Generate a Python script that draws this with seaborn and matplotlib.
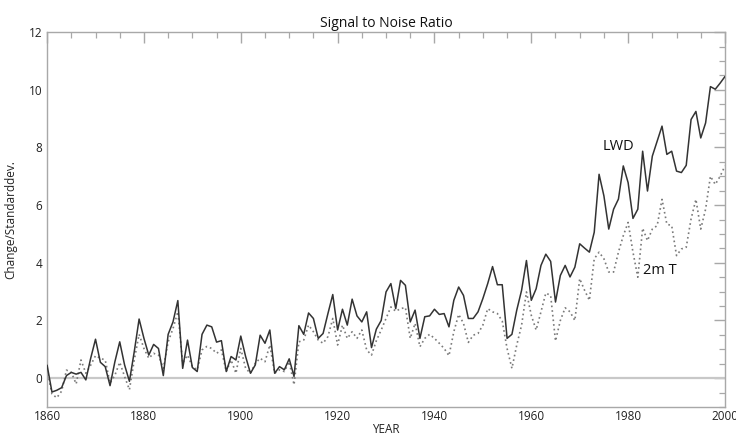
import numpy as np
import pandas as pd
import matplotlib
matplotlib.use('Agg')
import matplotlib.pyplot as plt
import seaborn as sns
from matplotlib.ticker import MultipleLocator

# years 1860..2000, one value per year
years = list(range(1860, 2001))

# signal to noise ratio, longwave downward radiation
lwd = [
    0.45, -0.48, -0.42, -0.33, 0.09, 0.20, 0.14, 0.20, -0.06, 0.69,
    1.35, 0.55, 0.40, -0.26, 0.57, 1.26, 0.46, -0.11, 0.92, 2.05,
    1.38, 0.80, 1.17, 1.03, 0.09, 1.52, 1.95, 2.69, 0.34, 1.32,
    0.37, 0.23, 1.52, 1.84, 1.78, 1.25, 1.30, 0.23, 0.75, 0.63,
    1.46, 0.75, 0.17, 0.46, 1.49, 1.21, 1.67, 0.17, 0.40, 0.29,
    0.67, 0.06, 1.82, 1.52, 2.26, 2.07, 1.38, 1.55, 2.24, 2.90,
    1.67, 2.39, 1.84, 2.74, 2.16, 1.95, 2.30, 1.06, 1.70, 2.00,
    2.99, 3.28, 2.41, 3.39, 3.22, 1.95, 2.36, 1.38, 2.13, 2.16,
    2.39, 2.21, 2.24, 1.78, 2.70, 3.16, 2.87, 2.07, 2.07, 2.30,
    2.76, 3.28, 3.87, 3.24, 3.24, 1.38, 1.52, 2.36, 3.05, 4.08,
    2.70, 3.10, 3.91, 4.30, 4.05, 2.64, 3.56, 3.91, 3.51, 3.85,
    4.66, 4.51, 4.37, 5.06, 7.07, 6.32, 5.17, 5.86, 6.21, 7.36,
    6.78, 5.54, 5.86, 7.87, 6.49, 7.70, 8.22, 8.74, 7.76, 7.87,
    7.18, 7.13, 7.38, 8.97, 9.25, 8.33, 8.85, 10.11, 10.02, 10.23,
    10.46,
]

# signal to noise ratio, 2m temperature
t2m = [
    0.30, -0.55, -0.68, -0.45, 0.28, 0.20, -0.20, 0.63, 0.17, 0.45,
    0.78, 0.69, 0.63, -0.17, 0.10, 0.55, 0.06, -0.40, 0.63, 1.52,
    1.03, 0.69, 0.86, 0.80, 0.34, 1.26, 1.72, 2.30, 0.52, 0.80,
    0.40, 0.29, 0.98, 1.10, 1.03, 0.86, 0.98, 0.23, 0.63, 0.17,
    1.03, 0.34, 0.17, 0.52, 0.69, 0.57, 1.15, 0.17, 0.29, 0.23,
    0.57, -0.23, 1.26, 1.32, 1.84, 1.61, 1.32, 1.21, 1.44, 2.07,
    1.15, 1.84, 1.38, 1.61, 1.38, 1.67, 0.98, 0.80, 1.30, 1.67,
    2.07, 2.47, 2.32, 2.41, 2.45, 1.38, 1.90, 1.09, 1.38, 1.52,
    1.38, 1.21, 1.03, 0.78, 1.61, 2.21, 1.90, 1.24, 1.49, 1.55,
    1.84, 2.41, 2.30, 2.24, 1.98, 1.03, 0.34, 1.15, 1.84, 2.99,
    2.18, 1.67, 2.30, 2.95, 2.87, 1.29, 2.00, 2.44, 2.30, 2.00,
    3.45, 3.05, 2.70, 4.14, 4.37, 4.14, 3.68, 3.68, 4.37, 4.94,
    5.40, 4.37, 3.50, 5.20, 4.77, 5.17, 5.29, 6.20, 5.34, 5.29,
    4.25, 4.48, 4.54, 5.52, 6.20, 5.17, 5.86, 7.00, 6.72, 7.00,
    7.36,
]

df = pd.DataFrame({'YEAR': years, 'LWD': lwd, '2m T': t2m})

sns.set_style('white')
plt.rcParams['font.family'] = ['Open Sans', 'DejaVu Sans']

fig = plt.figure(figsize=(7.36, 4.40), dpi=100)
ax = fig.add_axes([0.064, 0.075, 0.921, 0.852])

grey = '#a8a8a8'

# zero reference line
ax.axhline(0, color='#c8c8c8', lw=1.6, zorder=1)

sns.lineplot(x='YEAR', y='2m T', data=df, ax=ax, color='#7a7a7a',
             lw=1.2, linestyle=(0, (1, 1.8)), zorder=2)
sns.lineplot(x='YEAR', y='LWD', data=df, ax=ax, color='#333333',
             lw=1.1, zorder=3)

ax.set_xlim(1860, 2000)
ax.set_ylim(-1, 12)
ax.xaxis.set_major_locator(MultipleLocator(20))
ax.xaxis.set_minor_locator(MultipleLocator(5))
ax.yaxis.set_major_locator(MultipleLocator(2))
ax.yaxis.set_minor_locator(MultipleLocator(0.5))

for side in ax.spines.values():
    side.set_color(grey)
    side.set_linewidth(1.0)

ax.tick_params(which='both', direction='in', top=True, right=True,
               colors=grey, labelcolor='#222222', labelsize=8.5)
ax.tick_params(which='major', length=8, width=1.0)
ax.tick_params(which='minor', length=4, width=0.9)
ax.tick_params(axis='x', pad=2)

ax.set_xlabel('YEAR', fontsize=8.5, color='#222222', labelpad=0)
ax.set_ylabel('Change/Standarddev.', fontsize=8.5, color='#222222', labelpad=8)
ax.set_title('Signal to Noise Ratio', fontsize=10, color='#111111', pad=4)

# series names written beside the curves
ax.text(1977.9, 8.03, 'LWD', fontsize=10.5, ha='center', va='center', color='#111111')
ax.text(1986.6, 3.72, '2m T', fontsize=10.5, ha='center', va='center', color='#111111')

plt.savefig('out.png', dpi=100)
